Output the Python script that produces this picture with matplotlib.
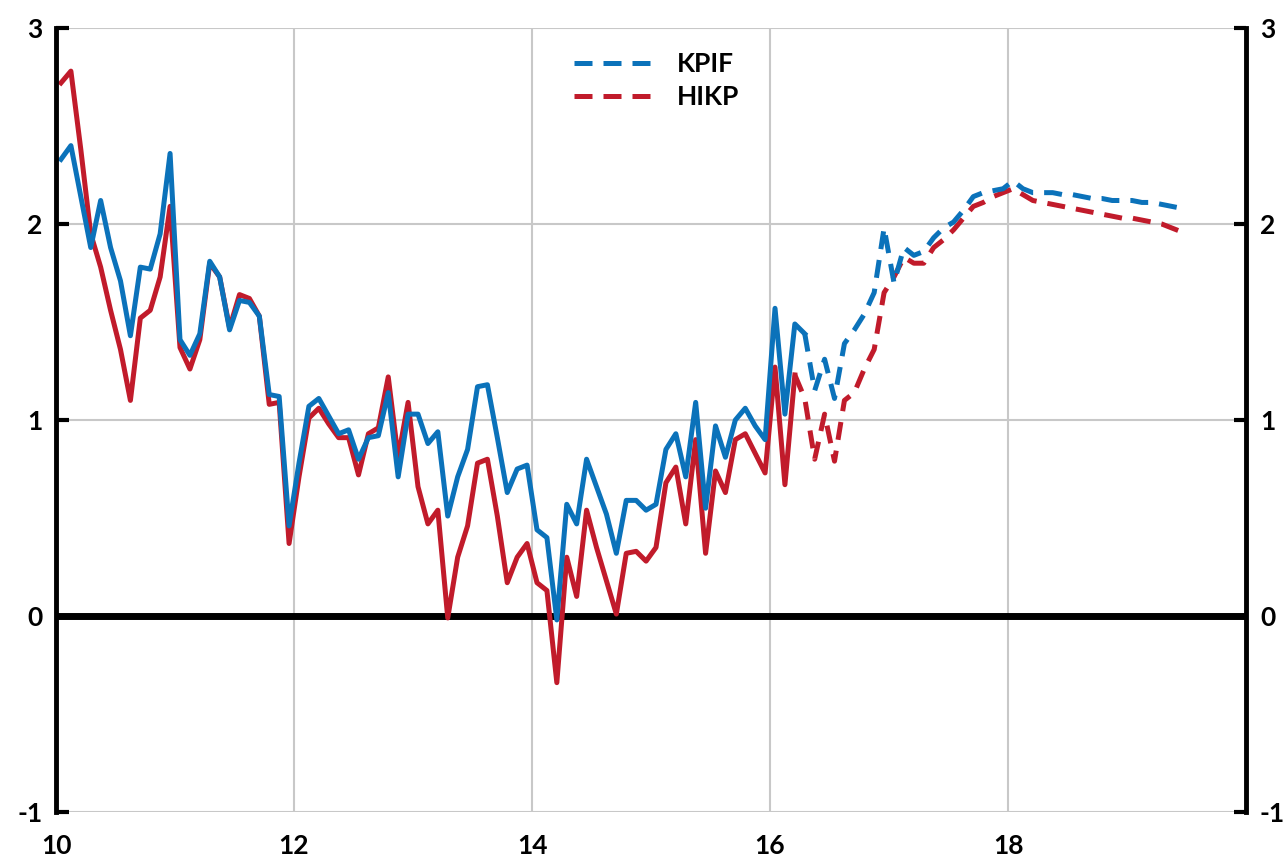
import numpy as np
import matplotlib.pyplot as plt

plt.rcParams['font.family'] = ['Lato', 'DejaVu Sans']
plt.rcParams['font.weight'] = 'bold'

# monthly data, first point = Jan 2010
kpif_actual = [2.33, 2.40, 2.14, 1.88, 2.12, 1.88, 1.71, 1.43, 1.78, 1.77, 1.95, 2.36,
               1.41, 1.33, 1.44, 1.81, 1.73, 1.46, 1.61, 1.60, 1.53, 1.13, 1.12, 0.46,
               0.78, 1.07, 1.11, 1.02, 0.93, 0.95, 0.80, 0.91, 0.92, 1.14, 0.71, 1.03,
               1.03, 0.88, 0.94, 0.51, 0.71, 0.85, 1.17, 1.18, 0.91, 0.63, 0.75, 0.77,
               0.44, 0.40, -0.02, 0.57, 0.47, 0.80, 0.66, 0.52, 0.32, 0.59, 0.59, 0.54,
               0.57, 0.85, 0.93, 0.71, 1.09, 0.55, 0.97, 0.81, 1.00, 1.06, 0.97, 0.90,
               1.57, 1.03, 1.49, 1.44]
hikp_actual = [2.72, 2.78, 2.38, 1.95, 1.78, 1.56, 1.36, 1.10, 1.52, 1.56, 1.73, 2.09,
               1.37, 1.26, 1.41, 1.80, 1.73, 1.47, 1.64, 1.62, 1.53, 1.08, 1.09, 0.37,
               0.71, 1.01, 1.06, 0.98, 0.91, 0.91, 0.72, 0.93, 0.96, 1.22, 0.81, 1.09,
               0.66, 0.47, 0.54, -0.01, 0.30, 0.46, 0.78, 0.80, 0.51, 0.17, 0.30, 0.37,
               0.17, 0.13, -0.34, 0.30, 0.10, 0.54, 0.35, 0.18, 0.01, 0.32, 0.33, 0.28,
               0.35, 0.68, 0.76, 0.47, 0.90, 0.32, 0.74, 0.63, 0.90, 0.93, 0.83, 0.73,
               1.27, 0.67, 1.23]

# forecasts start at the last actual month
kpif_fcst = [1.44, 1.15, 1.31, 1.11, 1.39, 1.46, 1.54, 1.65, 1.98, 1.70, 1.88, 1.84,
             1.86, 1.93, 1.98, 2.01, 2.07, 2.14, 2.16, 2.17, 2.18, 2.22, 2.18, 2.16,
             2.16, 2.16, 2.15, 2.15, 2.14, 2.13, 2.13, 2.12, 2.12, 2.12, 2.11, 2.11,
             2.10, 2.09, 2.08]
hikp_fcst = [1.23, 1.11, 0.80, 1.03, 0.79, 1.10, 1.14, 1.26, 1.36, 1.65, 1.73, 1.83,
             1.80, 1.80, 1.88, 1.92, 1.97, 2.03, 2.09, 2.11, 2.14, 2.16, 2.18, 2.15,
             2.12, 2.11, 2.10, 2.09, 2.08, 2.07, 2.06, 2.05, 2.04, 2.03, 2.03, 2.02,
             2.01, 2.00, 1.98, 1.96]

xticks = [10, 12, 14, 16, 18]
yticks = [-1, 0, 1, 2, 3]

blue = '#0B72BA'
red = '#C11B2B'


def months(start, n):
    return 10 + (np.arange(start, start + n) + 0.5) / 12


fig = plt.figure(figsize=(12.85, 8.67), dpi=100)
ax = fig.add_axes([0.0436, 0.0634, 0.9261, 0.9043])

ax.axhline(0, color='black', lw=5, zorder=2)

ax.plot(months(0, len(kpif_actual)), kpif_actual, color=blue, lw=3.6, zorder=4)
ax.plot(months(0, len(hikp_actual)), hikp_actual, color=red, lw=3.6, zorder=3)
k_line, = ax.plot(months(len(kpif_actual) - 1, len(kpif_fcst)), kpif_fcst,
                  color=blue, lw=3.6, dashes=(3.6, 2.2), zorder=4, label='KPIF')
h_line, = ax.plot(months(len(hikp_actual) - 1, len(hikp_fcst)), hikp_fcst,
                  color=red, lw=3.6, dashes=(3.6, 2.2), zorder=3, label='HIKP')

ax.set_xlim(10, 20)
ax.set_ylim(-1, 3)
ax.set_xticks(xticks)
ax.set_yticks(yticks)
ax.set_yticklabels([str(v) for v in yticks])

ax.grid(True, color='#c8c8c8', lw=1.5, zorder=0)
for s in ['top', 'bottom']:
    ax.spines[s].set_visible(False)
for s in ['left', 'right']:
    ax.spines[s].set_linewidth(3.5)
    ax.spines[s].set_zorder(5)

ax.tick_params(axis='x', length=0, pad=16, labelsize=19)
ax.tick_params(axis='y', direction='in', length=9, width=3, pad=10,
               labelsize=19, left=True, right=True, labelleft=True, labelright=True)

ax.legend(handles=[k_line, h_line], loc='upper center', bbox_to_anchor=(0.505, 1.0),
          frameon=False, handlelength=3.3, handletextpad=0.6, labelspacing=0.35,
          prop={'size': 19, 'weight': 'bold'})

fig.savefig('out.png', dpi=100)
